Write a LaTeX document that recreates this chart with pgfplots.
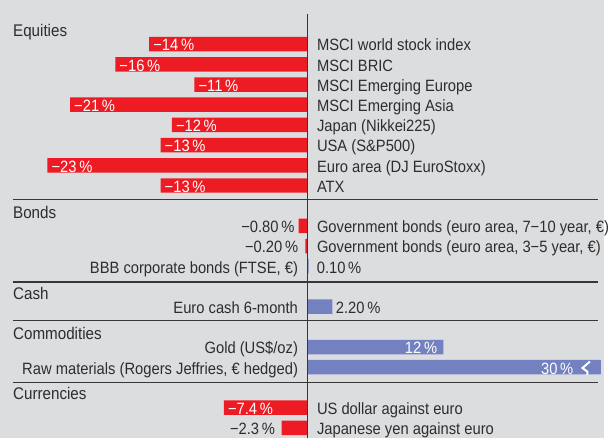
\documentclass[border=0pt]{standalone}
\usepackage{fontspec}
\setmainfont{Liberation Sans}[FakeStretch=0.9]
\usepackage{pgfplots}
\pgfplotsset{compat=1.18}
\definecolor{bg}{RGB}{220,221,223}
\definecolor{barred}{RGB}{237,28,36}
\definecolor{barblue}{RGB}{116,129,192}
\definecolor{txt}{RGB}{45,45,45}
\definecolor{rulec}{RGB}{55,55,55}
\begin{document}
\begin{tikzpicture}[x=1bp,y=1bp,font=\fontsize{16.5bp}{19bp}\selectfont]
\fill[bg] (0,0) rectangle (609,441);
\begin{axis}[at={(0,0)}, anchor=south west, scale only axis,
  width=605.7bp, height=441bp,
  xmin=-27.193, xmax=25.94, ymin=-2.187, ymax=19.484,
  y dir=reverse, hide axis, clip mode=individual]
% negative returns (red)
\addplot[xbar, fill=barred, draw=none, bar width=0.717, bar shift=0pt] coordinates {
 (-14.0,0) (-17.0,1) (-10.0,2) (-21.0,3) (-12.0,4) (-13.0,5) (-23.0,6) (-13.0,7)
 (-0.8,9) (-0.2,10) (-7.4,18) (-2.3,19)};
% positive returns (blue); raw materials bar (30%) is truncated at the edge
\addplot[xbar, fill=barblue, draw=none, bar width=0.717, bar shift=0pt] coordinates {
 (0.1,11) (2.2,13) (12,15) (30,16)};
% zero line and section rules
\draw[rulec, line width=1.5bp] (axis cs:0,-1.5) -- (axis cs:0,19.484);
\draw[rulec, line width=1.2bp] (axis cs:-26.08,7.69) -- (axis cs:25.7,7.69);
\draw[rulec, line width=1.2bp] (axis cs:-26.08,11.78) -- (axis cs:25.7,11.78);
\draw[rulec, line width=1.2bp] (axis cs:-26.08,13.68) -- (axis cs:25.7,13.68);
\draw[rulec, line width=1.2bp] (axis cs:-26.08,16.76) -- (axis cs:25.7,16.76);
% break symbol
\draw[white, line width=2bp] (axis cs:24.96,15.72) -- (axis cs:24.30,16.04) -- (axis cs:24.74,16.22) -- (axis cs:24.74,16.39);
% headers
\begin{scope}[every node/.style={txt, font=\fontsize{17bp}{19bp}\selectfont, anchor=base west, inner sep=0pt, yshift=-7bp}]
\node at (axis cs:-26.05,-0.727) {Equities};
\node at (axis cs:-26.05,8.28) {Bonds};
\node at (axis cs:-26.05,12.32) {Cash};
\node at (axis cs:-26.05,14.26) {Commodities};
\node at (axis cs:-26.05,17.27) {Currencies};
\end{scope}
% names on the right of the zero line
\begin{scope}[every node/.style={txt, anchor=base west, inner sep=0pt, xshift=9.3bp, yshift=-6.9bp}]
\node at (axis cs:0,0) {MSCI world stock index};
\node at (axis cs:0,1) {MSCI BRIC};
\node at (axis cs:0,2) {MSCI Emerging Europe};
\node at (axis cs:0,3) {MSCI Emerging Asia};
\node at (axis cs:0,4) {Japan (Nikkei225)};
\node at (axis cs:0,5) {USA (S\&P500)};
\node at (axis cs:0,6) {Euro area (DJ EuroStoxx)};
\node at (axis cs:0,7) {ATX};
\node at (axis cs:0,9) {Government bonds (euro area, 7−10 year, €)};
\node at (axis cs:0,10) {Government bonds (euro area, 3−5 year, €)};
\node at (axis cs:0,18) {US dollar against euro};
\node at (axis cs:0,19) {Japanese yen against euro};
\end{scope}
% names on the left of the zero line
\begin{scope}[every node/.style={txt, anchor=base east, inner sep=0pt, xshift=-9.5bp, yshift=-6.9bp}]
\node at (axis cs:0,11) {BBB corporate bonds (FTSE, €)};
\node at (axis cs:0,13) {Euro cash 6-month};
\node at (axis cs:0,15) {Gold (US\$/oz)};
\node at (axis cs:0,16) {Raw materials (Rogers Jeffries, € hedged)};
\end{scope}
% value labels inside red bars
\begin{scope}[every node/.style={white, anchor=base west, inner sep=0pt, xshift=4bp, yshift=-6.9bp}]
\node at (axis cs:-14.0,0) {−14\,\%};
\node at (axis cs:-17.0,1) {−16\,\%};
\node at (axis cs:-10.0,2) {−11\,\%};
\node at (axis cs:-21.0,3) {−21\,\%};
\node at (axis cs:-12.0,4) {−12\,\%};
\node at (axis cs:-13.0,5) {−13\,\%};
\node at (axis cs:-23.0,6) {−23\,\%};
\node at (axis cs:-13.0,7) {−13\,\%};
\node at (axis cs:-7.4,18) {−7.4\,\%};
\end{scope}
% value labels outside negative bars
\begin{scope}[every node/.style={txt, anchor=base east, inner sep=0pt, yshift=-6.9bp}]
\node[xshift=-4bp] at (axis cs:-0.8,9) {−0.80\,\%};
\node[xshift=-7bp] at (axis cs:-0.2,10) {−0.20\,\%};
\node[xshift=-6.5bp] at (axis cs:-2.3,19) {−2.3\,\%};
\end{scope}
% value labels of positive bars
\begin{scope}[every node/.style={inner sep=0pt, yshift=-6.9bp}]
\node[txt, anchor=base west, xshift=8bp] at (axis cs:0.1,11) {0.10\,\%};
\node[txt, anchor=base west, xshift=3.3bp] at (axis cs:2.2,13) {2.20\,\%};
\node[white, anchor=base east, xshift=-6bp] at (axis cs:12,15) {12\,\%};
\node[white, anchor=base east, xshift=-27.7bp] at (axis cs:25.94,16) {30\,\%};
\end{scope}
\end{axis}
\end{tikzpicture}
\end{document}
